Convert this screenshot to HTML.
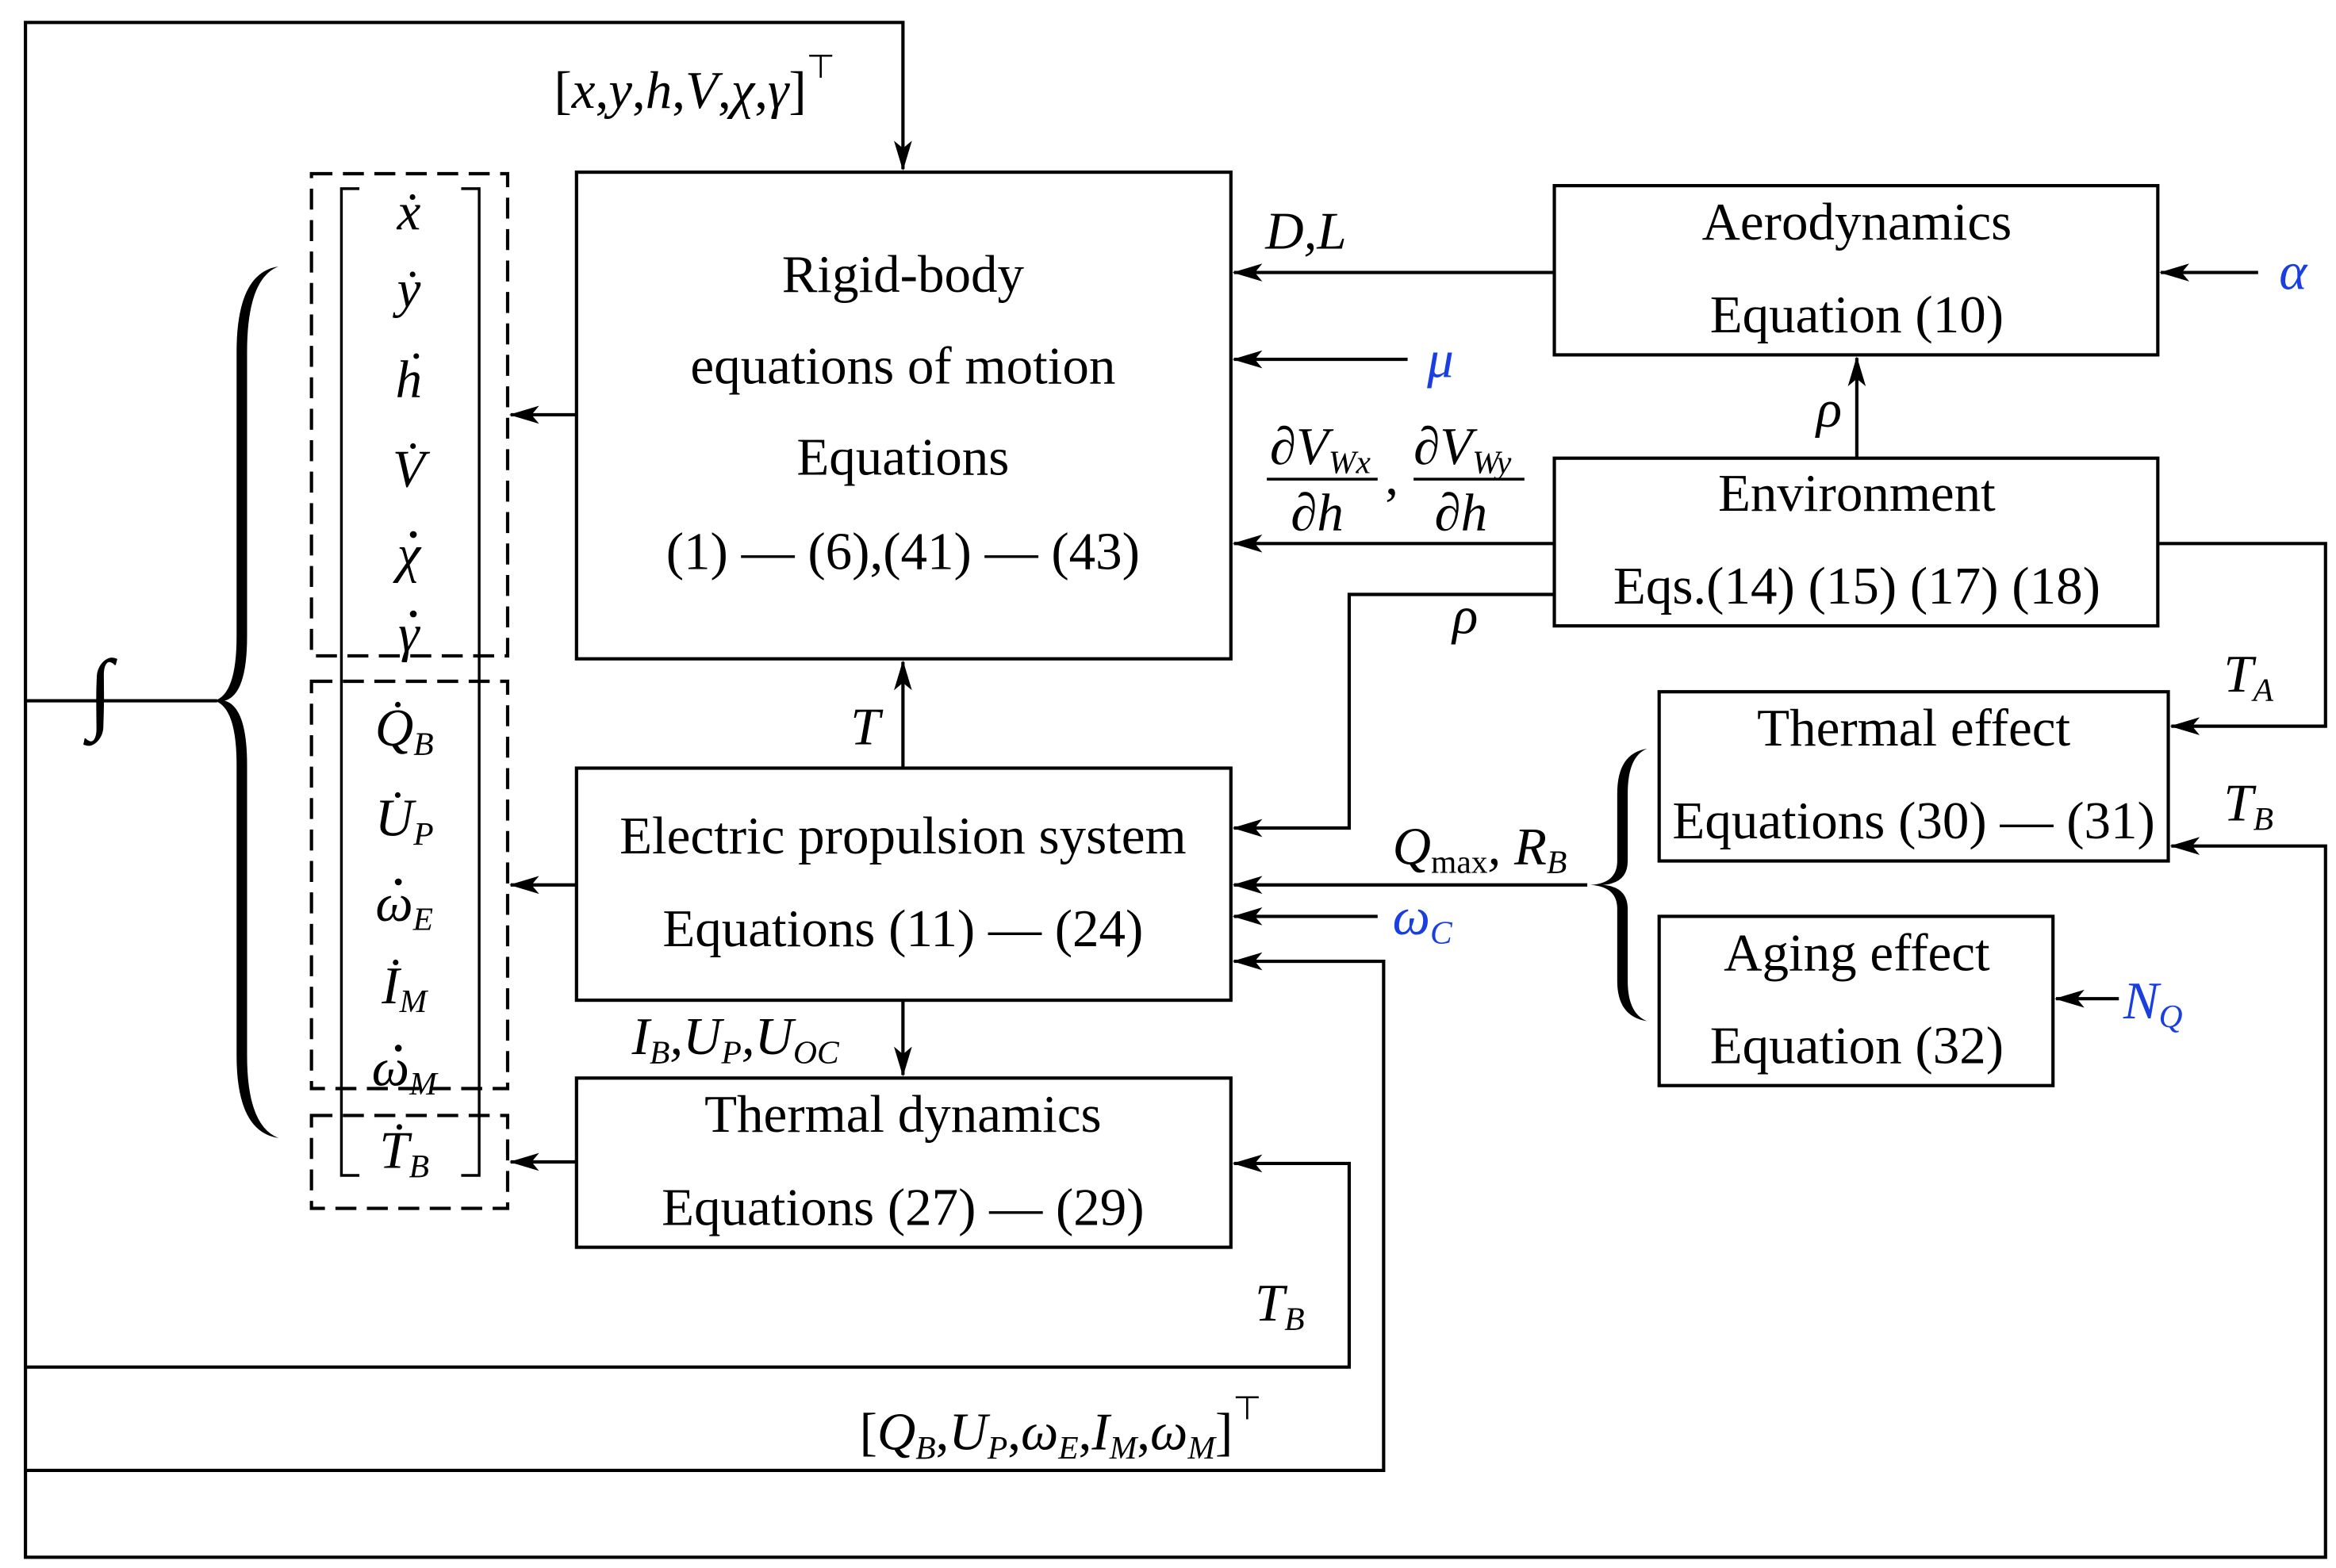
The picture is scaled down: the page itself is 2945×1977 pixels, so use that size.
<!DOCTYPE html>
<html><head><meta charset="utf-8"><style>
html,body{margin:0;padding:0;background:#fff;}
svg{display:block;}
text{font-family:"Liberation Serif",serif;font-size:35.5px;fill:#000;}
.i{font-style:italic;}
.b{fill:#1a3fe0;}
.s{font-size:22px;}
</style></head><body>
<svg width="2945" height="1977" viewBox="0 0 1560 1047.2" preserveAspectRatio="none" xmlns="http://www.w3.org/2000/svg">
<defs>
<marker id="h" viewBox="0 0 20 12" markerWidth="20" markerHeight="12" refX="19" refY="6" orient="auto" markerUnits="userSpaceOnUse"><path d="M0,0 L20,6 L0,12 L5,6 z" fill="#000"/></marker></defs>
<g fill="none" stroke="#000" stroke-width="2.2">
<rect x="385" y="115" width="437" height="325"/>
<rect x="385" y="513" width="437" height="155"/>
<rect x="385" y="720" width="437" height="113"/>
<rect x="1038" y="124" width="403" height="113"/>
<rect x="1038" y="306" width="403" height="112"/>
<rect x="1108" y="462" width="340" height="113"/>
<rect x="1108" y="612" width="263" height="113"/>
<g stroke-dasharray="14,7"><rect x="208" y="116" width="131" height="322"/><rect x="208" y="455" width="131" height="272"/><rect x="208" y="745" width="131" height="62"/></g>
<path d="M240,126 H228 V785 H240 M308,126 H320 V785 H308" stroke-width="1.8"/>
<path d="M17,468 V15 H603 V113" marker-end="url(#h)"/>
<path d="M17,468 V1040 H1553 V565 H1450" marker-end="url(#h)"/>
<path d="M17,913 H901 V777 H824" marker-end="url(#h)"/>
<path d="M17,982 H924 V642 H824" marker-end="url(#h)"/>
<path d="M17,468 H145"/>
<path d="M385,277 H341" marker-end="url(#h)"/>
<path d="M385,591 H341" marker-end="url(#h)"/>
<path d="M385,776 H341" marker-end="url(#h)"/>
<path d="M603,513 V442" marker-end="url(#h)"/>
<path d="M603,668 V718" marker-end="url(#h)"/>
<path d="M1038,182 H824" marker-end="url(#h)"/>
<path d="M940,240 H824" marker-end="url(#h)"/>
<path d="M1038,363 H824" marker-end="url(#h)"/>
<path d="M1038,397 H901 V553 H824" marker-end="url(#h)"/>
<path d="M1240,306 V239" marker-end="url(#h)"/>
<path d="M1508,182 H1443" marker-end="url(#h)"/>
<path d="M1441,363 H1553 V485 H1450" marker-end="url(#h)"/>
<path d="M1060,591 H824" marker-end="url(#h)"/>
<path d="M920,612 H824" marker-end="url(#h)"/>
<path d="M1415,667 H1373" marker-end="url(#h)"/>
<path d="M846,320 H920 M944,320 H1018" stroke-width="1.8"/>
</g>
<path d="M186,178 Q158,182 158,235 L158,425 Q158,464 143,468 Q158,472 158,511 L158,705 Q158,756 186,760 Q165,752 165,705 L165,511 Q165,472 150,468 Q165,464 165,425 L165,235 Q165,186 186,178 z" fill="#000"/>
<path d="M1100,500 Q1080,503 1080,530 L1080,575 Q1080,590 1062,591 Q1080,592 1080,607 L1080,655 Q1080,679 1100,682 Q1087,677 1087,655 L1087,607 Q1087,592 1070,591 Q1087,590 1087,575 L1087,530 Q1087,505 1100,500 z" fill="#000"/>
<g fill="#000"><circle cx="276" cy="357" r="2.3"/><circle cx="276" cy="410" r="2.3"/><circle cx="266" cy="589" r="2.3"/><circle cx="266" cy="700" r="2.3"/></g>
<text x="67" y="482" class="i" text-anchor="middle" style="font-size:60px">∫</text>
<g text-anchor="middle">
<text x="603" y="195">Rigid-body</text>
<text x="603" y="256">equations of motion</text>
<text x="603" y="317">Equations</text>
<text x="603" y="380">(1) — (6),(41) — (43)</text>
<text x="603" y="570">Electric propulsion system</text>
<text x="603" y="632">Equations  (11) — (24)</text>
<text x="603" y="756">Thermal dynamics</text>
<text x="603" y="818">Equations  (27) — (29)</text>
<text x="1240" y="160">Aerodynamics</text>
<text x="1240" y="222">Equation  (10)</text>
<text x="1240" y="341">Environment</text>
<text x="1240" y="403">Eqs.(14) (15) (17) (18)</text>
<text x="1278" y="498">Thermal effect</text>
<text x="1278" y="560">Equations  (30) — (31)</text>
<text x="1240" y="648">Aging effect</text>
<text x="1240" y="710">Equation  (32)</text>
<g class="i">
<text x="273" y="153">ẋ</text>
<text x="273" y="205">ẏ</text>
<text x="273" y="265">ḣ</text>
<text x="273" y="325">V̇</text>
<text x="273" y="382">χ</text>
<text x="273" y="435">γ</text>
<text x="270" y="498">Q̇<tspan class="s" dy="6">B</tspan></text>
<text x="270" y="558">U̇<tspan class="s" dy="6">P</tspan></text>
<text x="270" y="615">ω<tspan class="s" dy="6">E</tspan></text>
<text x="270" y="670">İ<tspan class="s" dy="6">M</tspan></text>
<text x="270" y="725">ω<tspan class="s" dy="6">M</tspan></text>
<text x="270" y="780">Ṫ<tspan class="s" dy="6">B</tspan></text>
</g>
</g>
<g class="i">
<text x="370" y="72" style="font-style:normal">[<tspan class="i">x</tspan>,<tspan class="i">y</tspan>,<tspan class="i">h</tspan>,<tspan class="i">V</tspan>,<tspan class="i">χ</tspan>,<tspan class="i">γ</tspan>]<tspan class="s" dy="-20">⊤</tspan></text>
<text x="845" y="166">D,L</text>
<text x="953" y="252" class="b i">μ</text>
<text x="568" y="497">T</text>
<text x="422" y="704">I<tspan class="s" dy="6">B</tspan><tspan dy="-6">,U</tspan><tspan class="s" dy="6">P</tspan><tspan dy="-6">,U</tspan><tspan class="s" dy="6">OC</tspan></text>
<text x="848" y="310">∂V<tspan class="s" dy="6">Wx</tspan></text>
<text x="862" y="354">∂h</text>
<text x="925" y="330" style="font-style:normal">,</text>
<text x="944" y="310">∂V<tspan class="s" dy="6">Wy</tspan></text>
<text x="958" y="354">∂h</text>
<text x="970" y="423">ρ</text>
<text x="1213" y="285">ρ</text>
<text x="1522" y="193" class="b i">α</text>
<text x="1485" y="462">T<tspan class="s" dy="6">A</tspan></text>
<text x="1485" y="548">T<tspan class="s" dy="6">B</tspan></text>
<text x="930" y="577">Q<tspan class="s" dy="6" style="font-style:normal">max</tspan><tspan dy="-6">, R</tspan><tspan class="s" dy="6">B</tspan></text>
<text x="930" y="624" class="b i">ω<tspan class="s b" dy="6">C</tspan></text>
<text x="1418" y="680" class="b i">N<tspan class="s b" dy="6">Q</tspan></text>
<text x="838" y="882">T<tspan class="s" dy="6">B</tspan></text>
<text x="574" y="968" style="font-style:normal">[<tspan class="i">Q</tspan><tspan class="s i" dy="6">B</tspan><tspan dy="-6">,</tspan><tspan class="i">U</tspan><tspan class="s i" dy="6">P</tspan><tspan dy="-6">,</tspan><tspan class="i">ω</tspan><tspan class="s i" dy="6">E</tspan><tspan dy="-6">,</tspan><tspan class="i">I</tspan><tspan class="s i" dy="6">M</tspan><tspan dy="-6">,</tspan><tspan class="i">ω</tspan><tspan class="s i" dy="6">M</tspan><tspan dy="-6">]</tspan><tspan class="s" dy="-20">⊤</tspan></text>
</g>
</svg>
</body></html>
